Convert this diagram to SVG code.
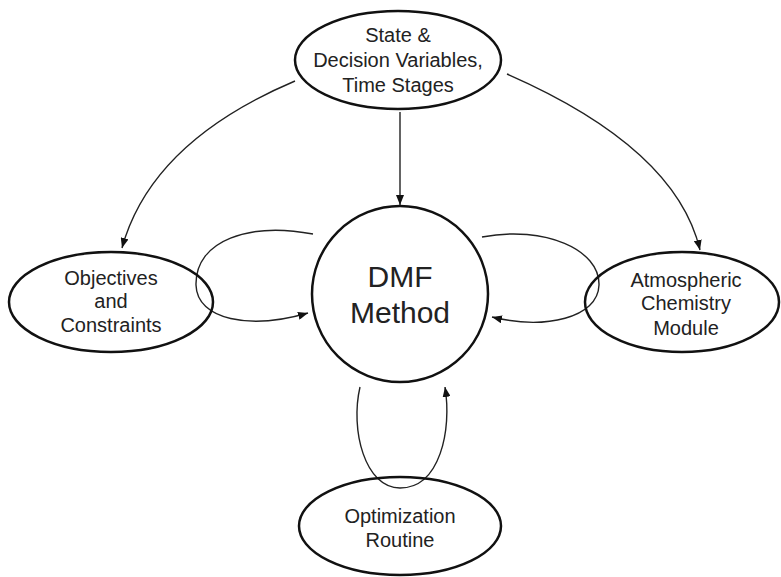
<svg xmlns="http://www.w3.org/2000/svg" width="781" height="577" viewBox="0 0 781 577">
<style>
.node{fill:none;stroke:#111;stroke-width:2.5}
.lbl{font-family:"Liberation Sans",Arial,sans-serif;font-size:20px;fill:#222;text-anchor:middle}
.big{font-family:"Liberation Sans",Arial,sans-serif;font-size:30px;fill:#222;text-anchor:middle}
.edge{fill:none;stroke:#222;stroke-width:1.4;marker-end:url(#ah)}
</style>
<defs>
<marker id="ah" viewBox="0 0 10 8" refX="10" refY="4" markerWidth="10" markerHeight="8" markerUnits="userSpaceOnUse" orient="auto">
<path d="M0,0 L10,4 L0,8 Z" fill="#111"/>
</marker>
</defs>
<rect width="781" height="577" fill="#fff"/>
<g id="connectors">
<path class="edge" d="M400,112 L400,205"/>
<path class="edge" d="M295,81 Q151,142 122,248"/>
<path class="edge" d="M507,74 Q676,148 700,250"/>
<path class="edge" d="M313,234 C250,222 195,240 196,285 C197,320 250,330 308,313"/>
<path class="edge" d="M482,237 C545,225 600,250 599,285 C598,318 545,330 492,317"/>
<path class="edge" d="M360,387 C350,430 365,488 400,488 C440,488 452,430 445,387"/>
</g>
<g id="state">
<ellipse class="node" cx="398" cy="60" rx="103" ry="49"/>
<text class="lbl" x="398" y="42">State &amp;</text>
<text class="lbl" x="398" y="67">Decision Variables,</text>
<text class="lbl" x="398" y="92">Time Stages</text>
</g>
<g id="dmf">
<circle class="node" cx="400" cy="294" r="88"/>
<text class="big" x="400" y="287">DMF</text>
<text class="big" x="400" y="323">Method</text>
</g>
<g id="objectives">
<ellipse class="node" cx="111" cy="302" rx="102" ry="50"/>
<text class="lbl" x="111" y="285">Objectives</text>
<text class="lbl" x="111" y="308">and</text>
<text class="lbl" x="111" y="332">Constraints</text>
</g>
<g id="atmospheric">
<ellipse class="node" cx="682" cy="302" rx="97" ry="50"/>
<text class="lbl" x="686" y="287">Atmospheric</text>
<text class="lbl" x="686" y="310">Chemistry</text>
<text class="lbl" x="686" y="335">Module</text>
</g>
<g id="optimization">
<ellipse class="node" cx="400" cy="526" rx="101" ry="49"/>
<text class="lbl" x="400" y="523">Optimization</text>
<text class="lbl" x="400" y="547">Routine</text>
</g>
</svg>
